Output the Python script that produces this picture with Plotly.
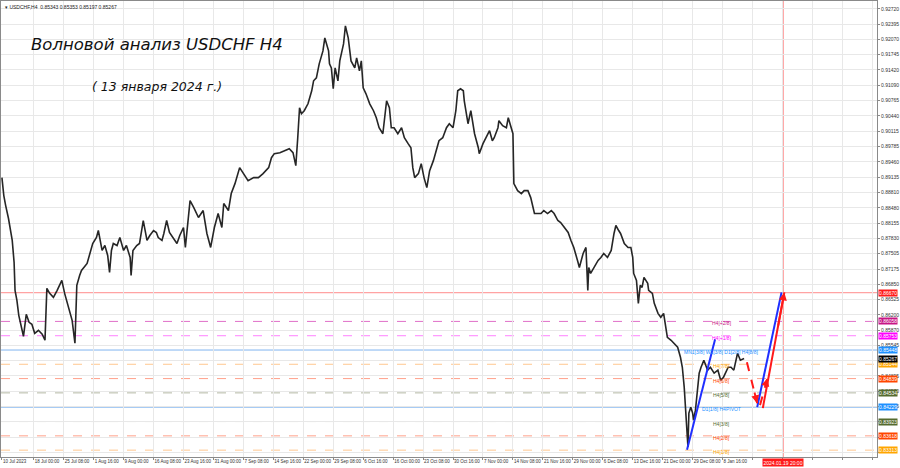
import plotly.graph_objects as go

# ---------------- data ----------------
bars = [0, 2, 4, 7, 11, 13, 14, 16, 18, 21, 23, 26, 29, 32, 35, 39, 43, 46, 48, 51,
        55, 59, 62, 64, 67, 71, 75, 78, 80, 83, 85, 91, 94, 97, 101, 103, 107, 110, 113, 115,
        117, 119, 123, 126, 130, 133, 137, 138, 140, 144, 147, 151, 155, 158, 162, 165, 167, 171, 173, 176,
        179, 183, 187, 190, 194, 196, 201, 205, 210, 215, 219, 223, 227, 231, 235, 237, 242, 245, 249, 254,
        258, 263, 269, 274, 279, 285, 288, 291, 297, 302, 307, 311, 314, 316, 318, 320, 323, 327, 331, 333,
        336, 339, 343, 345, 347, 349, 350, 352, 354, 356, 359, 361, 365, 367, 370, 373, 377, 379, 382, 384,
        386, 389, 393, 397, 400, 403, 407, 411, 414, 416, 419, 423, 427, 430, 434, 437, 439, 441, 445, 448,
        451, 454, 457, 461, 464, 467, 471, 475, 478, 482, 485, 487, 490, 493, 494, 496, 498, 501, 503, 505,
        509, 510, 514, 517, 521, 524, 526, 530, 531, 535, 539, 541, 544, 546, 547, 551, 555, 558, 562, 565,
        569, 573, 576, 579, 583, 587, 590, 594, 597, 601, 605, 608, 611, 615, 617, 621, 624, 626, 627, 629,
        633, 637, 640, 643, 647, 651, 654, 656, 659, 661, 665, 669, 672, 674, 675, 678, 680, 682, 684, 686,
        690, 691, 695, 697, 701, 704, 707, 709, 711, 715, 718, 722, 725, 727, 729, 731, 733, 734, 736, 738,
        739, 741, 743, 745, 747, 750, 754, 757, 761, 765, 768, 771, 776, 779, 782, 786, 789, 793]

closes = [0.89124, 0.88741, 0.88528, 0.88252, 0.87784, 0.87315, 0.86720, 0.86507, 0.86188, 0.85869,
          0.85741, 0.86209, 0.86039, 0.85996, 0.85805, 0.85869, 0.85784, 0.85656, 0.86762, 0.86656,
          0.86571, 0.86720, 0.86869, 0.86932, 0.86656, 0.86358, 0.86081, 0.85592, 0.86826, 0.87039,
          0.87145, 0.87294, 0.87528, 0.87720, 0.87847, 0.87996, 0.87571, 0.87677, 0.87464, 0.87103,
          0.87571, 0.87720, 0.87677, 0.87847, 0.87571, 0.87677, 0.87422, 0.87039, 0.87571, 0.87677,
          0.87720, 0.88209, 0.87784, 0.87890, 0.87996, 0.87954, 0.87847, 0.87784, 0.87933, 0.88209,
          0.87954, 0.87847, 0.87720, 0.87890, 0.88060, 0.87635, 0.88635, 0.88486, 0.88273, 0.88422,
          0.87933, 0.87635, 0.88060, 0.88358, 0.88060, 0.88571, 0.88422, 0.88784, 0.88996, 0.89337,
          0.89209, 0.89060, 0.89124, 0.89124, 0.89209, 0.89337, 0.89549, 0.89635, 0.89656, 0.89698,
          0.89741, 0.89656, 0.89379, 0.89954, 0.90613, 0.90486, 0.90550, 0.90698, 0.90975, 0.91188,
          0.91252, 0.91550, 0.91826, 0.92103, 0.91975, 0.91826, 0.91550, 0.91464, 0.91018, 0.91464,
          0.91188, 0.91613, 0.91975, 0.92358, 0.92103, 0.91613, 0.91464, 0.91677, 0.91401, 0.91613,
          0.91039, 0.90911, 0.90698, 0.90550, 0.90401, 0.90188, 0.90060, 0.90762, 0.90613, 0.90188,
          0.90188, 0.90060, 0.90188, 0.89975, 0.89848, 0.89762, 0.89337, 0.89124, 0.89209, 0.89422,
          0.89124, 0.88911, 0.89273, 0.89486, 0.89698, 0.89911, 0.89975, 0.90188, 0.90273, 0.90188,
          0.90550, 0.90975, 0.91018, 0.90975, 0.90762, 0.90486, 0.90273, 0.90550, 0.90337, 0.90060,
          0.89762, 0.89635, 0.89848, 0.89975, 0.90124, 0.89911, 0.89975, 0.90188, 0.90337, 0.90230,
          0.90188, 0.90401, 0.90188, 0.90060, 0.88996, 0.88847, 0.88784, 0.88847, 0.88847, 0.88698,
          0.88358, 0.88358, 0.88358, 0.88422, 0.88358, 0.88422, 0.88358, 0.88209, 0.88167, 0.88060,
          0.87954, 0.87784, 0.87635, 0.87358, 0.87209, 0.87507, 0.87635, 0.86720, 0.87209, 0.87081,
          0.87209, 0.87358, 0.87422, 0.87507, 0.87422, 0.87571, 0.87933, 0.88103, 0.87996, 0.87933,
          0.87720, 0.87635, 0.87635, 0.87422, 0.87081, 0.86932, 0.86443, 0.86826, 0.86783, 0.86996,
          0.86869, 0.86720, 0.86656, 0.86443, 0.86230, 0.86145, 0.86230, 0.85932, 0.85720, 0.85656,
          0.85592, 0.85507, 0.85294, 0.85081, 0.84656, 0.84103, 0.83379, 0.84103, 0.84230, 0.84103,
          0.83954, 0.84166, 0.84656, 0.84954, 0.85081, 0.85230, 0.85018, 0.85081, 0.84954, 0.85018,
          0.84805, 0.84869, 0.85081, 0.85081, 0.85018, 0.85380, 0.85230, 0.85267]

y_tick_values = [0.92720, 0.92395, 0.92070, 0.91745, 0.91420, 0.91090, 0.90765,
                 0.90440, 0.90115, 0.89785, 0.89460, 0.89135, 0.88810, 0.88480,
                 0.88155, 0.87830, 0.87505, 0.87175, 0.86850, 0.86525, 0.86200,
                 0.85870, 0.85545, 0.85215, 0.84895, 0.84570, 0.84245, 0.83915,
                 0.83590, 0.83265]
# ticks whose label is covered by a value box in the reference
covered_ticks = [0.85215, 0.83915, 0.83590, 0.83265]

x_tick_bars = [0, 34, 66, 98, 130, 162, 194, 226, 258, 290, 322, 354, 386, 418, 450, 482,
               514, 546, 578, 610, 642, 674, 706, 738, 770]
x_tick_labels = ["10 Jul 2023", "18 Jul 00:00", "25 Jul 08:00", "1 Aug 16:00", "9 Aug 00:00",
                 "16 Aug 08:00", "23 Aug 16:00", "31 Aug 00:00", "7 Sep 08:00", "14 Sep 16:00",
                 "22 Sep 00:00", "29 Sep 08:00", "6 Oct 16:00", "16 Oct 00:00", "23 Oct 08:00",
                 "30 Oct 16:00", "7 Nov 00:00", "14 Nov 08:00", "21 Nov 16:00", "29 Nov 00:00",
                 "6 Dec 08:00", "13 Dec 16:00", "21 Dec 00:00", "29 Dec 08:00", "8 Jan 16:00"]
future_grid_bars = [802, 834, 866, 898, 930]

level_names = ["H4[+2/8]", "H4[+1/8]", "MN1[3/8] W1[3/8] D1[2/8] H4[8/8]", "H4[7/8]", "H4[6/8]",
               "H4[5/8]", "D1[1/8] H4PIVOT", "H4[3/8]", "H4[2/8]", "H4[1/8]"]
level_prices = [0.86058, 0.85753, 0.85448, 0.85144, 0.84839, 0.84534, 0.84229, 0.83923, 0.83618, 0.83313]

resistance_price = 0.86670
last_price = 0.85267
header_text = "USDCHF,H4  0.85343 0.85353 0.85197 0.85267"
title_text = "Волновой анализ USDCHF H4"
subtitle_text = "( 13 января 2024 г.)"
forecast_bar = 835
forecast_label = "2024.01.19 20:00"
label_bar = 769

# analyst wave drawings: (bar, price) pairs
wave_up_1 = [(732, 0.83320), (762, 0.85680)]
wave_down_dash = [(796, 0.85187), (807, 0.84315)]
wave_up_dash = [(810, 0.84273), (818, 0.84847)]
wave_up_blue = [(807, 0.84230), (833, 0.86677)]
wave_up_red = [(813, 0.84209), (836, 0.86677)]

# ---------------- styles ----------------
line_colors = ["#e070c8", "#ff80ff", "#80b4f0", "#ffc890", "#ffa08a", "#b4b8a4", "#80b4f0",
               "#b4b8a4", "#ffa08a", "#ffc890"]
line_dash = ["dash", "dash", "solid", "dash", "dash", "dash", "solid", "dash", "dash", "dash"]
box_colors = ["#c71585", "#ff00ff", "#1e90ff", "#ffa500", "#ff4500", "#556b2f", "#1e90ff",
              "#556b2f", "#ff4500", "#ffa500"]
text_colors = box_colors
FONT = "Liberation Sans, Arial, sans-serif"

fig = go.Figure()

# horizontal levels
fig.add_shape(type="line", xref="x domain", x0=0, x1=1, yref="y", y0=resistance_price,
              y1=resistance_price, line=dict(color="#ff8c8c", width=1), layer="below")
for p, c, d in zip(level_prices, line_colors, line_dash):
    fig.add_shape(type="line", xref="x domain", x0=0, x1=1, yref="y", y0=p, y1=p,
                  line=dict(color=c, width=1, dash=d), layer="below")

# forecast vertical line
fig.add_shape(type="line", xref="x", x0=forecast_bar, x1=forecast_bar, yref="y domain", y0=0, y1=1,
              line=dict(color="#ffa0a0", width=1), layer="below")

# price
fig.add_trace(go.Scatter(x=bars, y=closes, mode="lines",
                         line=dict(color="#262626", width=1.6), hoverinfo="skip"))

# level labels in chart
for name, p, c in zip(level_names, level_prices, text_colors):
    fig.add_annotation(x=label_bar, y=p, text=name, showarrow=False, yshift=-2,
                       font=dict(family=FONT, size=5, color=c))

# wave drawings
for seg, col, dash in [(wave_up_1, "#1f2fff", "solid"), (wave_up_blue, "#1f2fff", "solid"),
                       (wave_up_red, "#ff1a1a", "solid"), (wave_down_dash, "#ff1a1a", "dash"),
                       (wave_up_dash, "#ff1a1a", "dash")]:
    (xa, ya), (xb, yb) = seg
    fig.add_shape(type="line", x0=xa, y0=ya, x1=xb, y1=yb, xref="x", yref="y",
                  line=dict(color=col, width=2, dash=dash))
for seg in [wave_up_red, wave_down_dash, wave_up_dash]:
    (xa, ya), (xb, yb) = seg
    fig.add_annotation(x=xb, y=yb, ax=xb - (xb - xa) * 0.3, ay=yb - (yb - ya) * 0.3,
                       xref="x", yref="y", axref="x", ayref="y", text="", showarrow=True,
                       arrowhead=2, arrowsize=0.8, arrowwidth=2, arrowcolor="#ff1a1a")

# right-axis value boxes
def box(p, text, bg, fg="white"):
    fig.add_annotation(xref="paper", x=1, xanchor="left", xshift=1, yref="y", y=p,
                       text=text, showarrow=False, bgcolor=bg, borderpad=0,
                       font=dict(family=FONT, size=5, color=fg))

box(resistance_price, f"{resistance_price:.5f}", "#ff1a1a")
for p, c in zip(level_prices, box_colors):
    box(p, f"{p:.5f}", c)
box(last_price, f"{last_price:.5f}", "#000000")

# forecast time box
fig.add_annotation(x=forecast_bar, xref="x", yref="paper", y=0, yanchor="top", yshift=-1,
                   text=forecast_label, showarrow=False, bgcolor="#ff1a1a", borderpad=0.5,
                   font=dict(family=FONT, size=5, color="white"))

# header and titles
fig.add_annotation(xref="paper", yref="paper", x=0, y=1, xanchor="left", yanchor="top",
                   xshift=2, yshift=-1, text="▾ " + header_text, showarrow=False,
                   font=dict(family=FONT, size=5, color="#222"))
fig.add_annotation(xref="paper", yref="paper", x=0.178, y=0.929, xanchor="center",
                   text="<i>" + title_text + "</i>",
                   showarrow=False, font=dict(family="DejaVu Sans", size=16.5, color="#111"))
fig.add_annotation(xref="paper", yref="paper", x=0.178, y=0.833, xanchor="center",
                   text="<i>" + subtitle_text + "</i>",
                   showarrow=False, font=dict(family="DejaVu Sans", size=12.5, color="#111"))

y_tick_text = ["" if v in covered_ticks else f"{v:.5f}" for v in y_tick_values]

fig.update_layout(
    width=900, height=468, margin=dict(l=1, r=23, t=1, b=11),
    plot_bgcolor="white", paper_bgcolor="white", showlegend=False,
    xaxis=dict(range=[-1, 935], tickvals=x_tick_bars + future_grid_bars,
               ticktext=x_tick_labels + [""] * len(future_grid_bars), tickangle=0,
               ticklabelposition="outside right", tickfont=dict(family=FONT, size=4.5, color="#333"),
               showgrid=True, gridcolor="#e8e8e8", gridwidth=1, zeroline=False,
               showline=True, linecolor="#8a8a8a", mirror=True, ticks="outside", ticklen=2,
               tickcolor="#8a8a8a", automargin=False, fixedrange=True),
    yaxis=dict(side="right", range=[0.83167, 0.92890],
               tickvals=y_tick_values, ticktext=y_tick_text,
               tickfont=dict(family=FONT, size=5, color="#333"),
               showgrid=True, gridcolor="#e8e8e8", gridwidth=1, zeroline=False,
               showline=True, linecolor="#8a8a8a", mirror=True, ticks="outside", ticklen=2,
               tickcolor="#8a8a8a", automargin=False, fixedrange=True),
)

fig.write_html("out.html", config={"displayModeBar": False},
               post_script="document.body.style.margin='0px';document.body.style.overflow='hidden';")
